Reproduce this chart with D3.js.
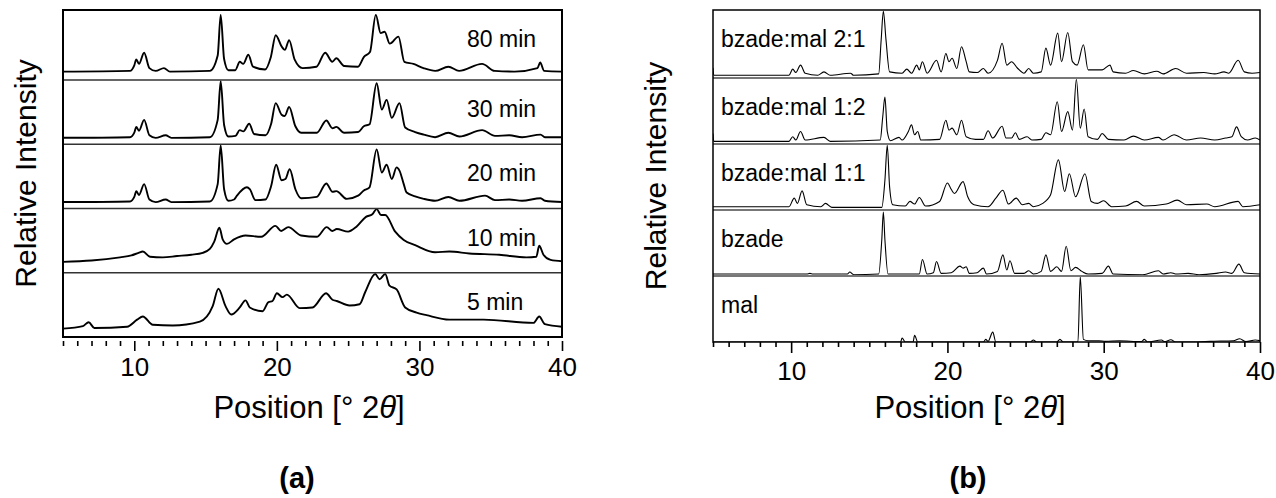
<!DOCTYPE html>
<html>
<head>
<meta charset="utf-8">
<script src="https://cdn.jsdelivr.net/npm/d3@7"></script>
<style>
  body { margin: 0; background: #fff; }
  text { font-family: Arial, "Liberation Sans", sans-serif; fill: #000; }
</style>
</head>
<body>
<svg width="1276" height="498"></svg>
<script>
// x range and ticks, both panels
const xDomain = [5, 40];
const majorTicks = [10, 20, 30, 40];
const minorTicks = [5,6,7,8,9,11,12,13,14,15,16,17,18,19,21,22,23,24,25,26,27,28,29,31,32,33,34,35,36,37,38,39];

// panel (a): milling time, top to bottom
const labelsA = ["80 min", "30 min", "20 min", "10 min", "5 min"];
// [2theta, relative intensity 0..100 of the strip]
const min80 = [[5,12],[9.7,13],[10.0,21],[10.14,29.5],[10.33,23],[10.69,39],[11.06,17],[11.5,13],[12.08,17],[12.5,12],[15.3,13],[15.85,35],[16.06,93],[16.3,30],[16.6,14],[17.08,14],[17.4,26],[17.64,23],[18.0,36],[18.33,19],[19.17,15],[19.58,33],[19.92,64],[20.33,48],[20.56,43],[20.86,57],[21.25,29],[21.8,17],[22.78,19],[23.39,39],[23.89,26],[24.17,31],[24.72,20],[25.69,19],[26.11,33],[26.53,40],[26.94,93],[27.28,67],[27.56,69],[27.92,52],[28.53,62],[28.94,26],[29.58,23],[30.28,17],[31.11,13],[32.03,19],[32.78,13],[34.39,23],[35.28,13],[36.67,12],[38.28,17],[38.47,25],[38.75,13],[40,12]];
const min30 = [[5,10],[9.7,11],[10.0,18],[10.14,27],[10.33,21],[10.69,38],[11.06,14],[11.5,10],[12.2,14],[12.6,10],[15.3,11],[15.85,38],[16.06,98],[16.3,30],[16.6,12],[17.1,13],[17.4,22],[17.65,20],[18.06,32],[18.4,16],[19.2,14],[19.6,32],[19.92,64],[20.33,46],[20.55,44],[20.86,58],[21.3,28],[21.7,18],[22.8,18],[23.47,37],[23.9,25],[24.17,27],[24.72,18],[25.7,19],[26.1,28],[26.5,31],[27.0,95],[27.36,54],[27.7,69],[28.06,41],[28.6,64],[29.0,26],[29.7,19],[30.3,15],[31.1,11],[32.03,18],[32.8,12],[34.4,22],[35.3,13],[36.3,14],[37.2,11],[38.5,15],[38.8,11],[40,11]];
const min20 = [[5,10],[9.7,11],[10.0,18],[10.14,27],[10.33,21],[10.69,38],[11.06,14],[11.5,10],[12.2,14],[12.6,10],[15.3,11],[15.85,38],[16.06,98],[16.3,30],[16.6,12],[17.0,14],[17.2,20],[17.9,33],[18.1,30],[18.5,13],[19.2,14],[19.6,35],[19.95,68],[20.33,44],[20.6,46],[20.9,61],[21.3,30],[21.7,16],[22.8,18],[23.47,39],[23.9,26],[24.17,27],[24.9,15],[25.7,20],[26.1,28],[26.5,33],[27.0,92],[27.36,56],[27.7,68],[28.06,46],[28.4,64],[28.6,59],[28.9,38],[29.1,25],[29.7,19],[30.3,15],[31.1,12],[32.03,18],[32.8,12],[34.6,20],[35.3,13],[36.3,14],[37.2,12],[38.5,16],[38.8,12],[40,10]];
const min10 = [[5,17],[7,19],[9,24],[9.8,27],[10.3,31],[10.6,33],[11.1,25],[12,24],[13,26],[14,28],[14.8,31],[15.3,37],[15.6,48],[15.97,70],[16.2,52],[16.5,45],[17.0,52],[17.8,58],[18.9,56],[19.9,73],[20.3,65],[20.8,71],[21.7,58],[22.8,56],[23.5,71],[23.9,65],[24.2,68],[25.0,64],[25.6,72],[26.25,87],[26.7,91],[27.0,99],[27.3,90],[27.6,90],[28.3,64],[28.9,51],[29.7,43],[31.1,32],[32.1,33],[33.5,30],[35.6,28],[37.5,24],[38.2,25],[38.4,42],[38.7,28],[39.2,20],[40,18]];
const min5 = [[5,13],[6.4,17],[6.8,23],[7.2,14],[9.5,16],[10.2,27],[10.6,32],[11.3,19],[12.7,18],[14.6,24],[15.5,48],[15.9,75],[16.4,48],[16.8,35],[17.4,46],[17.8,57],[18.1,46],[19.0,40],[19.4,54],[19.7,56],[20.0,68],[20.4,62],[20.7,66],[21.6,45],[22.5,46],[23.45,68],[23.9,58],[24.2,56],[25.1,49],[25.8,51],[26.2,70],[26.9,98],[27.2,90],[27.6,98],[27.9,80],[28.4,74],[29.0,46],[29.8,38],[30.5,34],[32.1,27],[34.5,27],[38.0,22],[38.4,32],[38.8,20],[40,16]];

// panel (b): references and mixtures, top to bottom
const labelsB = ["bzade:mal 2:1", "bzade:mal 1:2", "bzade:mal 1:1", "bzade", "mal"];
const bm21 = [[5,15],[5.05,4],[9.86,4],[10.1,13],[10.3,8],[10.6,19],[10.9,7],[11.7,4],[12.1,9],[12.5,4],[13.8,7],[14.0,4],[15.6,6],[15.76,56],[15.9,98],[16.07,56],[16.3,9],[17.1,7],[17.4,13],[17.7,7],[18.04,19],[18.2,12],[18.4,24],[18.7,7],[19.3,26],[19.6,9],[19.9,36],[20.1,24],[20.3,29],[20.6,14],[20.9,46],[21.2,24],[21.4,9],[21.9,8],[22.3,14],[22.6,7],[23.2,26],[23.5,51],[23.8,19],[24.1,24],[24.5,14],[24.9,7],[25.2,14],[25.5,7],[26.0,9],[26.3,44],[26.6,19],[27.06,66],[27.3,24],[27.7,67],[28.0,24],[28.3,19],[28.7,49],[29.0,12],[29.9,12],[30.4,19],[30.6,9],[31.4,7],[31.9,11],[32.6,6],[33.4,10],[33.8,6],[34.6,14],[35.3,7],[36.4,8],[37.1,6],[37.7,9],[38.0,7],[38.6,26],[39.0,9],[39.5,7],[40,8]];
const bm12 = [[5,16],[5.05,4],[9.86,4],[10.1,11],[10.3,6],[10.6,19],[10.9,6],[12.1,10],[12.5,4],[15.7,6],[15.86,41],[16.0,71],[16.15,19],[16.35,5],[16.9,10],[17.1,6],[17.5,19],[17.7,29],[17.9,14],[18.1,19],[18.3,6],[19.5,7],[19.9,36],[20.1,21],[20.3,24],[20.6,14],[20.9,36],[21.2,11],[21.8,7],[22.3,7],[22.6,20],[22.9,9],[23.5,27],[23.75,9],[24.1,9],[24.35,17],[24.6,7],[25.1,11],[25.4,6],[26.0,7],[26.3,17],[26.6,14],[27.03,64],[27.3,19],[27.7,49],[28.0,21],[28.25,98],[28.5,24],[28.75,53],[29.0,11],[29.6,7],[29.9,16],[30.3,7],[31.3,6],[31.9,12],[32.6,6],[33.5,10],[33.8,6],[34.5,14],[35.3,6],[36.2,9],[37.1,6],[37.8,9],[38.2,11],[38.5,26],[38.8,11],[39.2,6],[39.7,9],[40,6]];
const bm11 = [[5,5],[9.86,5],[10.2,18],[10.4,10],[10.7,29],[11.0,8],[11.9,5],[12.2,10],[12.6,4],[15.8,4],[16.0,45],[16.15,98],[16.3,35],[16.5,8],[17.3,6],[17.6,13],[17.9,9],[18.2,19],[18.6,6],[19.5,13],[20.0,41],[20.25,31],[20.45,25],[21.0,43],[21.3,20],[21.7,8],[22.6,5],[23.1,18],[23.55,30],[23.9,9],[24.4,18],[24.8,8],[25.2,10],[25.5,5],[26.1,10],[26.4,16],[26.6,23],[27.1,76],[27.5,28],[27.8,55],[28.2,20],[28.8,55],[29.2,13],[29.6,10],[30.0,14],[30.5,5],[31.4,6],[32.1,13],[32.6,6],[34.0,9],[34.7,15],[35.3,8],[36.6,9],[37.1,5],[38.6,13],[38.9,5],[40,8]];
const bzade = [[5,3],[11.0,3],[11.2,4],[11.4,3],[13.6,3],[13.75,6],[14.0,2],[15.6,3],[15.8,55],[15.9,97],[16.0,55],[16.2,3],[18.2,3],[18.4,25],[18.7,3],[19.1,5],[19.3,22],[19.6,4],[20.25,5],[20.8,15],[21.0,12],[21.2,14],[21.4,4],[21.9,5],[22.3,12],[22.5,3],[23.2,7],[23.55,32],[23.8,9],[24.0,23],[24.3,4],[24.9,4],[25.2,8],[25.5,3],[26.0,7],[26.3,32],[26.6,7],[27.0,14],[27.3,7],[27.6,45],[27.9,8],[28.2,13],[28.6,7],[29.0,3],[29.9,4],[30.3,15],[30.6,3],[32.5,2],[33.5,8],[33.8,3],[34.3,5],[34.6,3],[35.4,4],[36.1,2],[37.2,4],[37.8,6],[38.2,4],[38.65,18],[39.0,5],[40,3]];
const mal = [[5,0],[17.0,0],[17.1,6],[17.3,0],[17.8,0],[17.9,10],[18.1,0],[22.3,0],[22.45,4],[22.6,1],[22.9,15],[23.1,0],[25.3,0],[25.5,3],[25.7,0],[27.0,0],[27.2,4],[27.4,0],[28.35,0],[28.5,99],[28.7,4],[29.0,2],[29.7,2],[30.1,1],[31.0,2],[32.4,0.5],[32.6,4],[32.8,0],[33.7,3],[33.9,0.5],[34.3,3.5],[34.6,0],[36.0,0],[36.8,1],[38.3,2],[38.7,5],[39.1,0.5],[39.7,3],[40,2]];

const seriesA = [min80, min30, min20, min10, min5];
const seriesB = [bm21, bm12, bm11, bzade, mal];

const svg = d3.select("svg");

// strip edges: top strip a bit taller than the rest
function strips(top, bottom, first) {
  const rest = (bottom - top - first) / 4;
  return [top, top + first, top + first + rest, top + first + 2 * rest, top + first + 3 * rest, bottom];
}

function drawPanel(opt) {
  const x = d3.scaleLinear().domain(xDomain).range([opt.left, opt.right]);
  const edges = strips(opt.top, opt.bottom, opt.first);
  const g = svg.append("g");

  g.append("clipPath").attr("id", opt.id + "clip")
    .append("rect")
    .attr("x", opt.left).attr("y", opt.top - 2)
    .attr("width", opt.right - opt.left).attr("height", opt.bottom - opt.top + 2);

  const curves = g.append("g").attr("clip-path", "url(#" + opt.id + "clip)");

  opt.series.forEach(function(s, i) {
    const y = d3.scaleLinear().domain([0, 100]).range([edges[i + 1], edges[i]]);
    const line = d3.line()
      .x(d => x(d[0]))
      .y(d => y(d[1]))
      .curve(d3.curveMonotoneX);
    curves.append("path")
      .attr("d", line(s))
      .attr("fill", "none")
      .attr("stroke", "#000")
      .attr("stroke-width", opt.lineW)
      .attr("stroke-linejoin", "round");

    g.append("text")
      .attr("x", opt.labelX)
      .attr("y", edges[i] + 37)
      .style("font-size", "23px")
      .text(opt.labels[i]);
  });

  // dividers between strips
  g.selectAll(".div").data(edges.slice(1, 5)).enter().append("line")
    .attr("x1", opt.left).attr("x2", opt.right)
    .attr("y1", d => d).attr("y2", d => d)
    .attr("stroke", opt.divColor).attr("stroke-width", opt.divW);

  g.append("rect")
    .attr("x", opt.left).attr("y", opt.top)
    .attr("width", opt.right - opt.left).attr("height", opt.bottom - opt.top)
    .attr("fill", "none").attr("stroke", "#000").attr("stroke-width", opt.frameW);

  // x axis, major + minor ticks
  const ax = g.append("g").attr("transform", "translate(0," + opt.axisY + ")")
    .call(d3.axisBottom(x).tickValues(majorTicks).tickSize(opt.major).tickPadding(opt.pad).tickFormat(d3.format("d")));
  ax.select(".domain").remove();
  ax.selectAll("line").attr("stroke", "#000").attr("stroke-width", 1.6);
  ax.selectAll("text").style("font-size", "26px").style("font-family", "Arial, 'Liberation Sans', sans-serif").attr("fill", "#000");

  const mx = g.append("g").attr("transform", "translate(0," + opt.axisY + ")")
    .call(d3.axisBottom(x).tickValues(minorTicks).tickSize(5).tickFormat(""));
  mx.select(".domain").remove();
  mx.selectAll("line").attr("stroke", "#000").attr("stroke-width", 1.6);

  // axis titles
  const t = g.append("text")
    .attr("x", opt.titleX).attr("y", 418)
    .attr("text-anchor", "middle")
    .style("font-size", "31px");
  t.append("tspan").text("Position [° 2");
  t.append("tspan").style("font-style", "italic").text("θ");
  t.append("tspan").text("]");

  g.append("text")
    .attr("transform", "translate(" + opt.yLabelX + "," + ((opt.top + opt.bottom) / 2) + ") rotate(-90)")
    .attr("text-anchor", "middle")
    .style("font-size", "30px")
    .text("Relative Intensity");

  g.append("text")
    .attr("x", opt.tagX).attr("y", 488)
    .attr("text-anchor", "middle")
    .style("font-size", "29px").style("font-weight", "bold")
    .text(opt.tag);
}

drawPanel({
  id: "a", series: seriesA, labels: labelsA,
  left: 63, right: 562, top: 10, bottom: 337, first: 70,
  lineW: 1.9, divColor: "#333", divW: 1.5, frameW: 2,
  labelX: 467, axisY: 341, major: 10, pad: 7,
  titleX: 309, yLabelX: 36, tagX: 297, tag: "(a)"
});

drawPanel({
  id: "b", series: seriesB, labels: labelsB,
  left: 713, right: 1260, top: 10, bottom: 342, first: 68,
  lineW: 1.1, divColor: "#777", divW: 2, frameW: 1.5,
  labelX: 721, axisY: 342, major: 11, pad: 9,
  titleX: 970, yLabelX: 666, tagX: 968, tag: "(b)"
});
</script>
</body>
</html>
